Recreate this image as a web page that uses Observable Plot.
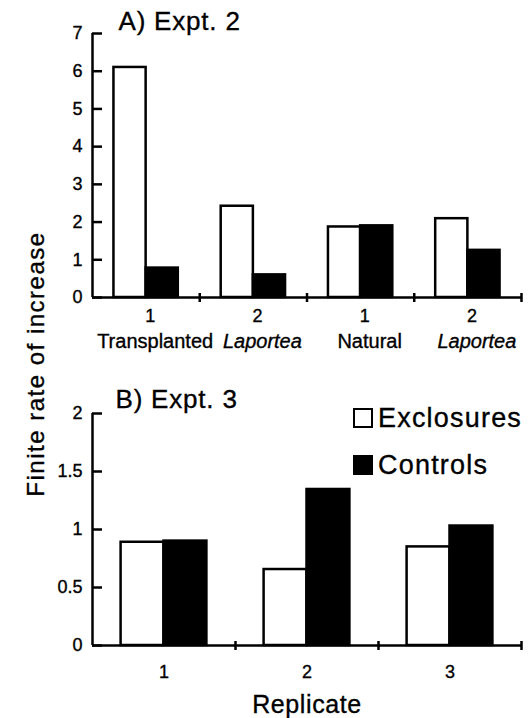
<!DOCTYPE html>
<html><head><meta charset="utf-8">
<script src="https://cdn.jsdelivr.net/npm/d3@7"></script>
<script src="https://cdn.jsdelivr.net/npm/@observablehq/plot@0.6"></script>
<style>
body{margin:0;background:#fff;}
#wrap{position:relative;width:531px;height:718px;font-family:"Liberation Sans",Arial,Helvetica,sans-serif;color:#000;overflow:hidden;background:#fff}
#wrap svg{display:block}
#wrap svg text{stroke:#000;stroke-width:0.35px}
.ylab{position:absolute;left:36px;top:364px;transform:translate(-50%,-50%) rotate(-90deg);white-space:nowrap;font-size:24px;line-height:24px;letter-spacing:1.5px;-webkit-text-stroke:0.35px #000}
.lg-sq{position:absolute;width:16px;height:16px;border:2px solid #000;left:353px}
.lg-tx{position:absolute;left:378px;font-size:27px;line-height:27px;letter-spacing:1.2px;white-space:nowrap;-webkit-text-stroke:0.35px #000}
</style></head><body><div id="wrap"></div>
<script>
const seriesNames = ["Exclosures", "Controls"];
const aTickLabels = ["1", "2", "1", "2"];
const aCategoryLabels = ["Transplanted", "Laportea", "Natural", "Laportea"];
const aItalic = [false, true, false, true];
const aExclosures = [6.1, 2.42, 1.87, 2.09];
const aControls = [0.78, 0.6, 1.9, 1.25];
const aYTicks = [0, 1, 2, 3, 4, 5, 6, 7];
const bTickLabels = ["1", "2", "3"];
const bExclosures = [0.89, 0.655, 0.85];
const bControls = [0.9, 1.345, 1.03];
const bYTicks = [0, 0.5, 1, 1.5, 2];
const yLabel = "Finite rate of increase";
const xLabelB = "Replicate";
const titleA = "A) Expt. 2";
const titleB = "B) Expt. 3";

const FONT = '"Liberation Sans", Arial, Helvetica, sans-serif';
const HALF = 0.3;

function rows(exc, ctl) {
  return exc.flatMap((v, i) => [
    {i, series: seriesNames[0], value: v},
    {i, series: seriesNames[1], value: ctl[i]}
  ]);
}

function panel(o) {
  const n = o.tickLabels.length;
  const data = rows(o.exc, o.ctl);
  const xTicks = o.tickLabels.map((label, i) => ({i, label}));
  const marks = [
    Plot.rectY(data.filter(d => d.series === seriesNames[0]), {
      x1: d => d.i + 0.5 - HALF, x2: d => d.i + 0.5, y1: 0, y2: "value",
      fill: "white", stroke: "black", strokeWidth: 2.5
    }),
    Plot.rectY(data.filter(d => d.series === seriesNames[1]), {
      x1: d => d.i + 0.5, x2: d => d.i + 0.5 + HALF, y1: 0, y2: "value",
      fill: "black", stroke: "black", strokeWidth: 2.5
    }),
    Plot.ruleX([0], {stroke: "black", strokeWidth: 2.5}),
    Plot.ruleY([0], {stroke: "black", strokeWidth: 2.5}),
    Plot.axisY(o.yTicks, {tickSize: 10, dx: 10, tickFormat: () => "", strokeWidth: 2.5, stroke: "black"}),
    Plot.text(o.yTicks, {y: d => d, text: d => String(d), frameAnchor: "left", textAnchor: "end",
      dx: -10, fontSize: 18, fill: "black"}),
    Plot.axisX(d3.range(1, n + 1), {tickSize: 9, dy: -4, tickFormat: () => "", strokeWidth: 2.5, stroke: "black"}),
    Plot.text(xTicks, {x: d => d.i + 0.5, text: "label", frameAnchor: "bottom", lineAnchor: "top",
      dy: o.tickPadding, dx: o.tickDx, fontSize: 18, fill: "black"}),
    Plot.text([o.title], {frameAnchor: "top-left", textAnchor: "start", lineAnchor: "top",
      dx: o.titleDx, dy: o.titleDy, fontSize: 26, fill: "black"})
  ];
  if (o.extra) marks.push(...o.extra);
  return Plot.plot({
    width: 531, height: o.height,
    marginTop: o.marginTop, marginBottom: o.marginBottom, marginLeft: 92, marginRight: 10,
    style: {fontFamily: FONT, background: "white", color: "black", overflow: "visible"},
    x: {domain: [0, n], axis: null, label: null},
    y: {domain: [0, o.yMax], axis: null, label: null},
    marks
  });
}

const catData = aCategoryLabels.map((label, i) => ({i, label, italic: aItalic[i]}));

const svgA = panel({
  height: 370, marginTop: 33, marginBottom: 73, yMax: 7, yTicks: aYTicks,
  exc: aExclosures, ctl: aControls, tickLabels: aTickLabels, tickPadding: 12, tickDx: 4,
  title: titleA, titleDx: 26, titleDy: -22,
  extra: [
    Plot.text(catData.filter(d => !d.italic), {x: d => d.i + 0.5, text: "label", frameAnchor: "bottom",
      lineAnchor: "top", dy: 36, dx: 9, fontSize: 20, fill: "black"}),
    Plot.text(catData.filter(d => d.italic), {x: d => d.i + 0.5, text: "label", frameAnchor: "bottom",
      lineAnchor: "top", dy: 36, dx: 9, fontSize: 20, fontStyle: "italic", fill: "black"})
  ]
});

const svgB = panel({
  height: 348, marginTop: 43, marginBottom: 73, yMax: 2, yTicks: bYTicks,
  exc: bExclosures, ctl: bControls, tickLabels: bTickLabels, tickPadding: 20, tickDx: 0,
  title: titleB, titleDx: 23, titleDy: -24,
  extra: [
    Plot.text([xLabelB], {frameAnchor: "bottom", lineAnchor: "top", dy: 50, fontSize: 25, fill: "black"})
  ]
});

for (const svg of [svgA, svgB]) {
  svg.querySelectorAll("text").forEach(t => {
    const s = t.textContent;
    if (s === titleA || s === titleB) t.style.letterSpacing = "0.8px";
    if (s === xLabelB) t.style.letterSpacing = "0.6px";
  });
}

const wrap = document.getElementById("wrap");
wrap.appendChild(svgA);
wrap.appendChild(svgB);

const yl = document.createElement("div");
yl.className = "ylab";
yl.textContent = yLabel;
wrap.appendChild(yl);

const legendTops = [408, 455];
const legendFills = ["#fff", "#000"];
seriesNames.forEach((name, k) => {
  const sq = document.createElement("div");
  sq.className = "lg-sq";
  sq.style.top = legendTops[k] + "px";
  sq.style.background = legendFills[k];
  wrap.appendChild(sq);
  const tx = document.createElement("div");
  tx.className = "lg-tx";
  tx.style.top = (legendTops[k] - 3) + "px";
  tx.textContent = name;
  wrap.appendChild(tx);
});
</script></body></html>
